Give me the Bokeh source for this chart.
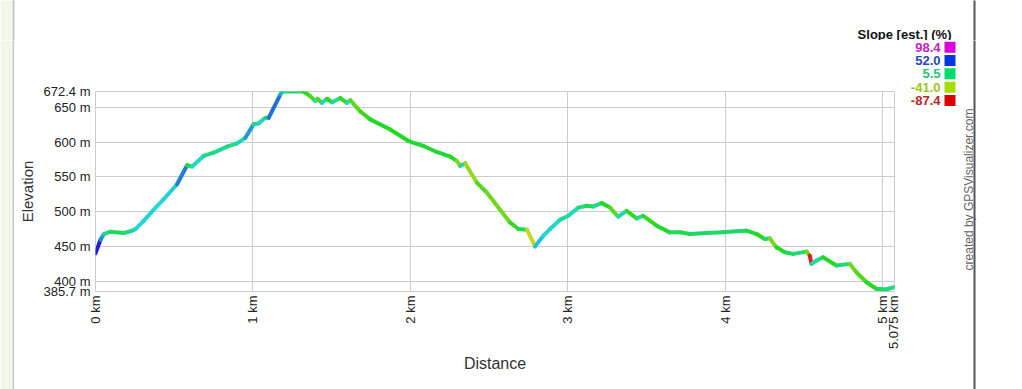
import colorsys
import numpy as np
from bokeh.plotting import figure
from bokeh.layouts import row, column
from bokeh.models import ColumnDataSource, Range1d, FixedTicker, CustomJSTickFormatter
from bokeh.core.properties import value
from bokeh.embed import file_html
from bokeh.resources import INLINE

# ---------------- data ----------------
distance_km = [0.000, 0.032, 0.053, 0.095, 0.180, 0.222, 0.254, 0.306, 0.370, 0.433,
               0.518, 0.582, 0.614, 0.687, 0.751, 0.836, 0.899, 0.952, 1.004, 1.036,
               1.079, 1.100, 1.174, 1.187, 1.322, 1.364, 1.396, 1.411, 1.438, 1.470,
               1.502, 1.555, 1.597, 1.618, 1.681, 1.745, 1.872, 1.988, 2.083, 2.168,
               2.253, 2.295, 2.316, 2.348, 2.422, 2.485, 2.570, 2.633, 2.686, 2.740,
               2.792, 2.845, 2.887, 2.951, 3.003, 3.067, 3.120, 3.162, 3.215, 3.268,
               3.320, 3.374, 3.437, 3.479, 3.564, 3.648, 3.712, 3.775, 3.881, 3.987,
               4.072, 4.135, 4.199, 4.251, 4.283, 4.325, 4.378, 4.431, 4.516, 4.537,
               4.548, 4.579, 4.621, 4.706, 4.791, 4.833, 4.897, 4.960, 5.023, 5.072]
elevation_m = [440.4, 460.0, 468.0, 471.4, 469.6, 472.0, 475.0, 487.0, 503.0, 518.0,
               539.5, 566.7, 564.8, 580.0, 584.8, 593.3, 598.0, 606.0, 625.3, 626.7,
               634.7, 634.7, 668.0, 672.4, 672.4, 665.7, 658.6, 662.0, 656.0, 662.0,
               657.0, 663.0, 656.0, 660.0, 644.0, 632.4, 618.0, 601.4, 594.3, 585.7,
               579.0, 572.9, 565.7, 569.6, 541.9, 527.6, 503.0, 484.7, 475.3, 474.3,
               450.4, 465.7, 475.2, 488.6, 494.3, 506.0, 508.6, 507.6, 512.4, 506.0,
               492.9, 501.4, 490.5, 494.3, 480.0, 470.5, 470.5, 468.0, 469.6, 470.5,
               471.9, 472.9, 468.0, 461.0, 461.9, 449.0, 441.9, 439.6, 442.9, 437.0,
               425.3, 430.0, 434.7, 422.9, 425.3, 413.3, 399.0, 389.6, 388.6, 391.9]

y_ticks = [385.7, 400, 450, 500, 550, 600, 650, 672.4]
x_ticks = [0, 1, 2, 3, 4, 5, 5.075]
legend_values = [98.4, 52.0, 5.5, -41.0, -87.4]
legend_title = "Slope [est.] (%)"
credit = "created by GPSVisualizer.com"

SLOPE_MIN, SLOPE_MAX = -87.4, 98.4
FONT = "Liberation Sans"


def slope_color(s, sat=1.0, val=0.87):
    f = min(max((s - SLOPE_MIN) / (SLOPE_MAX - SLOPE_MIN), 0.0), 1.0)
    r, g, b = colorsys.hsv_to_rgb(f * 300.0 / 360.0, sat, val)
    return "#%02x%02x%02x" % (int(r * 255), int(g * 255), int(b * 255))


def blank_fig(w, h):
    f = figure(width=w, height=h, output_backend="svg", toolbar_location=None,
               x_range=Range1d(0, w), y_range=Range1d(0, h),
               x_axis_location=None, y_axis_location=None,
               min_border=0, min_border_left=0, min_border_right=0,
               min_border_top=0, min_border_bottom=0)
    f.grid.visible = False
    f.outline_line_color = None
    f.background_fill_color = "white"
    f.border_fill_color = "white"
    f.frame_align = False
    return f


def page_edges(f, h, x_off=0):
    # pale strip and grey rule at the left page edge, dark rule at the right
    f.quad(left=[0 - x_off], right=[11 - x_off], bottom=[-5], top=[h + 5],
           fill_color="#eef7e9", line_color=None)
    f.quad(left=[12 - x_off], right=[14 - x_off], bottom=[-5], top=[h + 5],
           fill_color="#c4c4c4", line_color=None)
    f.quad(left=[973 - x_off], right=[975 - x_off], bottom=[-5], top=[h + 5],
           fill_color="#555555", line_color=None)


# ---------------- main chart ----------------
d = np.array(distance_km)
e = np.array(elevation_m)
slopes = np.diff(e) / (np.diff(d) * 1000.0) * 100.0
seg_colors = [slope_color(s, 0.85, 0.85) for s in slopes]
src = ColumnDataSource(dict(x0=d[:-1], y0=e[:-1], x1=d[1:], y1=e[1:], c=seg_colors))

TOP_H = 40
LEFT_W = 14
MAIN_W = 900 - LEFT_W
BODY_H = 389 - TOP_H
p = figure(width=MAIN_W, height=BODY_H, output_backend="svg", toolbar_location=None,
           x_range=Range1d(0, 5.075), y_range=Range1d(385.7, 672.4),
           min_border_left=95 - LEFT_W, min_border_right=6, min_border_top=91 - TOP_H,
           min_border_bottom=98)
p.frame_align = False
p.background_fill_color = "white"
p.border_fill_color = "white"
p.outline_line_color = "#cccccc"

p.segment("x0", "y0", "x1", "y1", source=src, line_color="c", line_width=4, line_cap="round")

for ax in (p.xaxis[0], p.yaxis[0]):
    ax.axis_line_color = None
    ax.major_tick_line_color = None
    ax.minor_tick_line_color = None
    ax.major_tick_out = 0
    ax.major_tick_in = 0
    ax.minor_tick_out = 0
    ax.major_label_text_font = FONT
    ax.major_label_text_font_size = "13px"
    ax.major_label_text_color = "#222222"
    ax.axis_label_text_font = FONT
    ax.axis_label_text_font_style = "normal"
    ax.axis_label_text_color = "#333333"

p.xaxis.ticker = FixedTicker(ticks=x_ticks)
p.yaxis.ticker = FixedTicker(ticks=y_ticks)
p.xaxis.formatter = CustomJSTickFormatter(code="return tick + ' km'")
p.yaxis.formatter = CustomJSTickFormatter(code="return tick + ' m'")
p.xaxis.major_label_orientation = np.pi / 2
p.xaxis.major_label_standoff = 4
p.yaxis.major_label_standoff = 5
p.xaxis.axis_label = "Distance"
p.yaxis.axis_label = "Elevation"
p.xaxis.axis_label_text_font_size = "16px"
p.yaxis.axis_label_text_font_size = "15px"
p.xaxis.axis_label_standoff = 3
p.yaxis.axis_label_standoff = 5

p.xgrid.grid_line_color = "#cccccc"
p.ygrid.grid_line_color = "#cccccc"
p.xgrid.ticker = FixedTicker(ticks=x_ticks)
p.ygrid.ticker = FixedTicker(ticks=y_ticks)

# ---------------- top strip: legend title ----------------
top = blank_fig(1022, TOP_H)
page_edges(top, TOP_H)
top.text(x=[951], y=[TOP_H - 33.5], text=[legend_title], text_align="right",
         text_baseline="middle", text_font=value(FONT), text_font_size="13px",
         text_font_style="bold", text_color="#111111")

# ---------------- left edge strip ----------------
left = blank_fig(LEFT_W, BODY_H)
page_edges(left, BODY_H)

# ---------------- right side: legend entries, credit, divider ----------------
SIDE_X = 900
SIDE_W = 1022 - SIDE_X
side = blank_fig(SIDE_W, BODY_H)
page_edges(side, BODY_H, SIDE_X)
row_y_page = [46.7, 60.0, 73.3, 86.7, 100.0]
ly = [BODY_H - (yy - TOP_H) for yy in row_y_page]
side.text(x=[940 - SIDE_X] * len(legend_values), y=ly,
          text=[f"{v:.1f}" for v in legend_values],
          text_color=[slope_color(v, 0.85, 0.78) for v in legend_values],
          text_align="right", text_baseline="middle", text_font=value(FONT),
          text_font_size="13px", text_font_style="bold")
side.rect(x=[949.5 - SIDE_X] * len(legend_values), y=ly, width=11, height=11,
          fill_color=[slope_color(v, 1.0, 0.87) for v in legend_values], line_color=None)
side.text(x=[968 - SIDE_X], y=[BODY_H - (189 - TOP_H)], text=[credit], angle=np.pi / 2,
          text_align="center", text_baseline="middle", text_font=value(FONT),
          text_font_size="12px", text_color="#666666")

layout = column(top, row(left, p, side, spacing=0), spacing=0)
open("out.html", "w").write(file_html(layout, INLINE))
